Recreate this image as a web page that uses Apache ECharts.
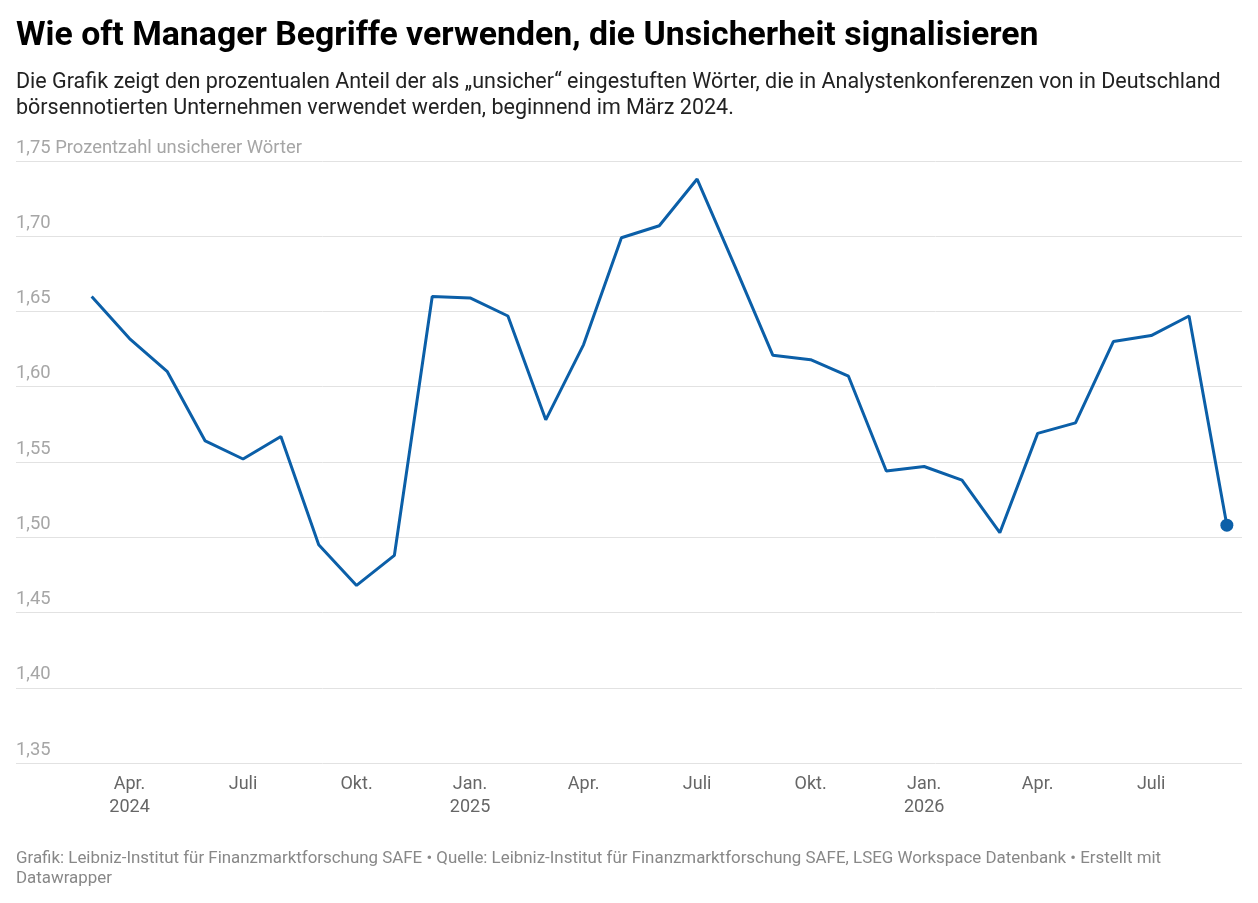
<!DOCTYPE html>
<html>
<head>
<meta charset="utf-8">
<script src="https://cdn.jsdelivr.net/npm/echarts@6/dist/echarts.min.js"></script>
<style>
html, body { margin: 0; padding: 0; background: #fff; }
#line { width: 1258px; height: 903px; }
</style>
</head>
<body>
<div id="line"></div>
<script>
// Monate (Monatsanfang) und Werte
var months = ['2024-03','2024-04','2024-05','2024-06','2024-07','2024-08','2024-09','2024-10','2024-11','2024-12',
  '2025-01','2025-02','2025-03','2025-04','2025-05','2025-06','2025-07','2025-08','2025-09','2025-10','2025-11','2025-12',
  '2026-01','2026-02','2026-03','2026-04','2026-05','2026-06','2026-07','2026-08','2026-09'];
var values = [1.660, 1.632, 1.610, 1.564, 1.552, 1.567, 1.495, 1.468, 1.488, 1.660,
  1.659, 1.647, 1.578, 1.628, 1.699, 1.707, 1.738, 1.680, 1.621, 1.618, 1.607, 1.544,
  1.547, 1.538, 1.503, 1.569, 1.576, 1.630, 1.634, 1.647, 1.508];

// x-Achse: Monate seit Jan. 2024
var tickMonths = [3, 6, 9, 12, 15, 18, 21, 24, 27, 30];
var tickLabels = ['Apr.\n2024', 'Juli', 'Okt.', 'Jan.\n2025', 'Apr.', 'Juli', 'Okt.', 'Jan.\n2026', 'Apr.', 'Juli'];
var yTicks = [1.35, 1.40, 1.45, 1.50, 1.55, 1.60, 1.65, 1.70, 1.75];
var yUnit = 'Prozentzahl unsicherer Wörter';

function monthIndex(s)
{
	var p = s.split('-');
	return (parseInt(p[0], 10) - 2024) * 12 + parseInt(p[1], 10) - 1;
}

var seriesData = [];
for (var i = 0; i < months.length; i++)
{
	seriesData.push([monthIndex(months[i]), values[i]]);
}
var lastIdx = seriesData.length - 1;

var myChart = echarts.init(document.getElementById('line'));

var font = 'Roboto, "Noto Sans", sans-serif';

option =
{
	animation : false,
	textStyle : { fontFamily : font },
	title : [
	{
		text : 'Wie oft Manager Begriffe verwenden, die Unsicherheit signalisieren',
		left : 16,
		top : 17,
		padding : 0,
		textStyle : { fontFamily : font, fontSize : 33.8, fontWeight : 'bold', color : '#000', lineHeight : 40 }
	},
	{
		text : 'Die Grafik zeigt den prozentualen Anteil der als \u201Eunsicher\u201C eingestuften Wörter, die in Analystenkonferenzen von in Deutschland\nbörsennotierten Unternehmen verwendet werden, beginnend im März 2024.',
		left : 16,
		top : 70,
		padding : 0,
		textStyle : { fontFamily : font, fontSize : 21.5, fontWeight : 'normal', color : '#222', lineHeight : 26 }
	},
	{
		text : 'Grafik: Leibniz-Institut für Finanzmarktforschung SAFE \u2022 Quelle: Leibniz-Institut für Finanzmarktforschung SAFE, LSEG Workspace Datenbank \u2022 Erstellt mit\nDatawrapper',
		left : 16,
		top : 849,
		padding : 0,
		textStyle : { fontFamily : font, fontSize : 16.9, fontWeight : 'normal', color : '#888', lineHeight : 20 }
	}],
	grid :
	{
		left : 16,
		right : 16,
		top : 161,
		bottom : 140,
		containLabel : false
	},
	xAxis :
	{
		type : 'value',
		min : 0,
		max : 32.4,
		interval : 3,
		axisLine : { show : false },
		axisTick : { show : false },
		splitLine : { show : false },
		axisLabel :
		{
			showMinLabel : false,
			showMaxLabel : false,
			margin : 10,
			fontSize : 18,
			lineHeight : 23,
			color : '#666',
			formatter : function (v)
			{
				var k = tickMonths.indexOf(Math.round(v));
				return k >= 0 ? tickLabels[k] : '';
			}
		}
	},
	yAxis :
	{
		type : 'value',
		min : yTicks[0],
		max : yTicks[yTicks.length - 1],
		interval : 0.05,
		axisLine : { show : false },
		axisTick : { show : false },
		splitLine : { lineStyle : { color : '#e2e2e2', width : 1 } },
		axisLabel :
		{
			inside : true,
			margin : 0,
			align : 'left',
			verticalAlign : 'bottom',
			lineHeight : 20,
			padding : [0, 0, 3, 0],
			fontSize : 18.4,
			color : '#a6a6a6',
			formatter : function (v)
			{
				var s = v.toFixed(2).replace('.', ',');
				if (Math.abs(v - yTicks[yTicks.length - 1]) < 1e-6) s += ' ' + yUnit;
				return s;
			}
		}
	},
	series : [
	{
		type : 'line',
		data : seriesData,
		showSymbol : true,
		showAllSymbol : true,
		symbol : 'circle',
		symbolSize : function (v, params) { return params.dataIndex === lastIdx ? 13 : 0; },
		lineStyle : { color : '#0b5fa8', width : 3 },
		itemStyle : { color : '#0b5fa8', borderWidth : 0 }
	}]
};

myChart.setOption(option);
</script>
</body>
</html>
